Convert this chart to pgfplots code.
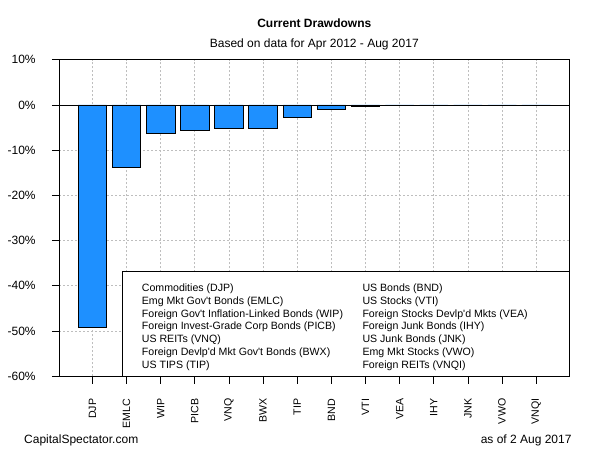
\documentclass[border=0pt]{standalone}
\usepackage{fontspec}
\setmainfont{Liberation Sans}[Ligatures=TeXOff]
\usepackage{pgfplots}
\pgfplotsset{compat=1.18}
\definecolor{barblue}{HTML}{1E90FF}
\definecolor{gridgray}{HTML}{BEBEBE}
\begin{document}
\begin{tikzpicture}[x=1bp,y=1bp]
\path[use as bounding box] (0,0) rectangle (600,450);
\begin{axis}[
  at={(59.3bp,73.7bp)}, anchor=south west,
  scale only axis, width=510bp, height=316.6bp,
  xmin=-0.97, xmax=13.97, ymin=-60, ymax=10,
  xtick={0,...,13},
  xticklabels={DJP,EMLC,WIP,PICB,VNQ,BWX,TIP,BND,VTI,VEA,IHY,JNK,VWO,VNQI},
  ytick={-60,-50,-40,-30,-20,-10,0,10},
  yticklabels={-60\%,-50\%,-40\%,-30\%,-20\%,-10\%,0\%,10\%},
  grid=major,
  major grid style={gridgray, dash pattern=on 2bp off 2bp, line width=0.7bp},
  tick align=outside, xtick pos=bottom, ytick pos=left,
  major tick length=7.5bp,
  tick style={black, line width=0.8bp},
  axis line style={black, line width=0.8bp},
  x tick label style={rotate=90, anchor=east, inner sep=0pt, font=\fontsize{10.6bp}{12bp}\selectfont},
  y tick label style={anchor=east, inner sep=0pt, font=\fontsize{12bp}{14bp}\selectfont},
  xticklabel shift=14.7bp,
  yticklabel shift=16bp,
]
\addplot[ybar, bar width=0.8333, fill=barblue, draw=black, line width=0.8bp]
  coordinates {(0,-49.2) (1,-13.8) (2,-6.4) (3,-5.6) (4,-5.3) (5,-5.3) (6,-2.7) (7,-0.9) (8,-0.4) (9,0) (10,0) (11,0) (12,0) (13,0)};
\addplot[black, line width=0.8bp, sharp plot, mark=none] coordinates {(-0.97,0) (13.97,0)};
\end{axis}
% legend box
\draw[black, fill=white, line width=0.8bp] (122.7,73.7) rectangle (569.3,178.3);
\begin{scope}[every node/.style={anchor=base west, inner sep=0pt, font=\fontsize{10.6bp}{12bp}\selectfont}]
\foreach \t [count=\i from 0] in {Commodities (DJP),Emg Mkt Gov't Bonds (EMLC),Foreign Gov't Inflation-Linked Bonds (WIP),Foreign Invest-Grade Corp Bonds (PICB),US REITs (VNQ),Foreign Devlp'd Mkt Gov't Bonds (BWX),US TIPS (TIP)}
  \node at (141.7,158.5-12.77*\i) {\t};
\foreach \t [count=\i from 0] in {US Bonds (BND),US Stocks (VTI),Foreign Stocks Devlp'd Mkts (VEA),Foreign Junk Bonds (IHY),US Junk Bonds (JNK),Emg Mkt Stocks (VWO),Foreign REITs (VNQI)}
  \node at (362.3,158.5-12.77*\i) {\t};
\end{scope}
% titles
\node[anchor=base, inner sep=0pt, font=\fontsize{12bp}{14bp}\selectfont\bfseries] at (314.3,422.7) {Current Drawdowns};
\node[anchor=base, inner sep=0pt, font=\fontsize{12bp}{14bp}\selectfont] at (314.3,402.3) {Based on data for Apr 2012 - Aug 2017};
\node[anchor=base west, inner sep=0pt, font=\fontsize{12bp}{14bp}\selectfont] at (24,6) {CapitalSpectator.com};
\node[anchor=base east, inner sep=0pt, font=\fontsize{12bp}{14bp}\selectfont] at (571.7,6) {as of 2 Aug 2017};
\end{tikzpicture}
\end{document}
